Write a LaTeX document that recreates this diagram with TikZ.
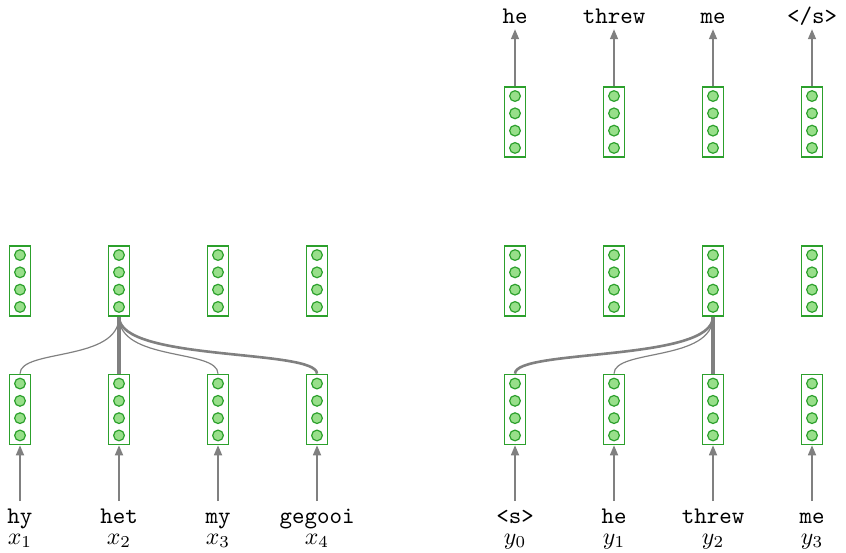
\documentclass[tikz,border=0pt]{standalone}
\usetikzlibrary{arrows.meta,calc}
\definecolor{boxgreen}{HTML}{2CA02C}
\definecolor{dotfill}{HTML}{98DF8A}
\pgfdeclarelayer{background}
\pgfsetlayers{background,main}

% a vector: a green box holding four units
\newcommand{\vecbox}[2]{%
  \node[vbox] (#1) at #2 {};
  \foreach \k in {-1.5,-0.5,0.5,1.5}
    \node[unit] at ($(#1)+(0,\k*17.3)$) {};
}

\begin{document}
\begin{tikzpicture}[x=0.42pt,y=-0.42pt,
  vbox/.style={draw=boxgreen, fill=white, line width=0.7pt,
    rectangle, minimum width=8.8pt, minimum height=29.4pt, inner sep=0pt},
  unit/.style={circle, draw=boxgreen, fill=dotfill, line width=0.5pt,
    minimum size=4.5pt, inner sep=0pt},
  word/.style={font=\ttfamily, anchor=base, inner sep=2pt,
    text height=7pt, text depth=0pt},
  lab/.style={anchor=base, inner sep=1pt},
  feed/.style={draw=gray, line width=0.6pt,
    -{Triangle[length=4.2pt,width=3.4pt]}},
  att/.style={draw=gray},
  weak/.style={att, line width=0.5pt},
  mid/.style={att, line width=1.1pt},
  strong/.style={att, line width=1.45pt}]

\useasboundingbox (0,0) rectangle (846,553);

% ---------------- encoder ----------------
\foreach \i/\x/\w in {1/20/hy, 2/119/het, 3/218/my, 4/317/gegooi}{
  \node[word] (wx\i) at (\x,523) {\w};
  \node[lab] (lx\i) at (\x,544) {$x_{\i}$};
  \vecbox{e\i}{(\x,409.5)}
  \vecbox{h\i}{(\x,281)}
  \draw[feed] (wx\i.north) -- (e\i.south);
}

% ---------------- decoder ----------------
\foreach \i/\x/\w/\o in {0/515/{<s>}/he, 1/614/he/threw, 2/713/threw/me, 3/812/me/{</s>}}{
  \node[word] (wy\i) at (\x,523) {\w};
  \node[lab] (ly\i) at (\x,544) {$y_{\i}$};
  \vecbox{d\i}{(\x,409.5)}
  \vecbox{s\i}{(\x,281)}
  \vecbox{o\i}{(\x,122)}
  \node[word] (wo\i) at (\x,24) {\o};
  \draw[feed] (wy\i.north) -- (d\i.south);
  \draw[feed] (o\i.north) -- (wo\i.south);
}

% ---------------- attention ----------------
\begin{pgfonlayer}{background}
  \draw[weak]   (e1.north) .. controls +(0,-25) and +(0,45) .. (h2.south);
  \draw[strong] (e2.north) -- (h2.south);
  \draw[weak]   (e3.north) .. controls +(0,-25) and +(0,45) .. (h2.south);
  \draw[mid]    (e4.north) .. controls +(0,-25) and +(0,45) .. (h2.south);

  \draw[mid]    (d0.north) .. controls +(0,-25) and +(0,45) .. (s2.south);
  \draw[weak]   (d1.north) .. controls +(0,-25) and +(0,45) .. (s2.south);
  \draw[strong] (d2.north) -- (s2.south);
\end{pgfonlayer}

\end{tikzpicture}
\end{document}
